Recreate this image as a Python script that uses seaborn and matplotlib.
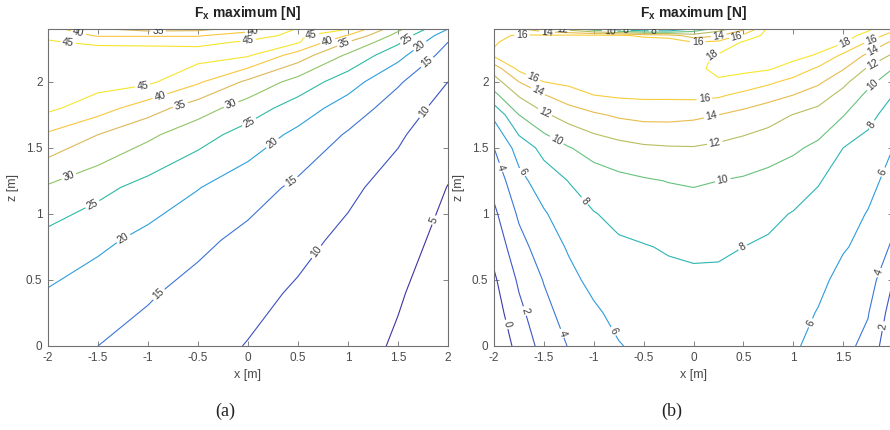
import numpy as np
import matplotlib
matplotlib.use('Agg')
import matplotlib.pyplot as plt
import seaborn as sns

# ---- panel (a): Fx maximum ----
xa = [-2, -1.5, -1, -0.5, 0, 0.5, 1, 1.5, 2]
za = [0, 0.4, 0.8, 1.2, 1.6, 1.8, 2.0, 2.2, 2.3, 2.35, 2.4]
fa = [
    [16.7, 15.0, 13.3, 11.6, 9.8, 8.1, 6.3, 4.6, 2.8],
    [19.6, 17.5, 15.5, 13.4, 11.4, 9.4, 7.4, 5.3, 3.3],
    [23.5, 21.1, 18.6, 16.1, 13.7, 11.3, 8.9, 6.4, 3.9],
    [29.4, 26.4, 23.3, 20.2, 17.1, 14.0, 11.0, 8.0, 4.9],
    [39.3, 35.0, 31.0, 27.0, 23.0, 18.8, 14.5, 10.7, 6.6],
    [46.0, 42.2, 37.2, 32.2, 27.5, 22.6, 17.6, 12.7, 8.0],
    [48.0, 47.0, 46.0, 40.7, 34.0, 28.1, 22.2, 15.6, 10.0],
    [48.0, 48.0, 47.5, 47.0, 45.5, 37.6, 29.1, 21.5, 12.8],
    [45.5, 44.0, 44.0, 44.0, 45.5, 45.5, 34.8, 25.8, 15.0],
    [44.0, 39.5, 39.5, 39.5, 43.5, 46.0, 39.7, 28.1, 17.0],
    [42.0, 35.5, 33.0, 33.5, 37.0, 45.5, 45.2, 31.2, 20.0],
]
levels_a = [5, 10, 15, 20, 25, 30, 35, 40, 45]

# ---- panel (b): one list per x column, bottom (z=0) to top (z=2.4) ----
xb = [-2, -1.75, -1.5, -1.25, -1, -0.75, -0.5, -0.25, 0,
      0.25, 0.5, 0.75, 1, 1.25, 1.5, 1.75, 2]
zb = [0, 0.25, 0.5, 0.75, 1.0, 1.25, 1.5, 1.75, 1.9, 2.0, 2.1, 2.2, 2.3, 2.35, 2.4]
fb_cols = [
    [-1.8, -1.0, -0.3, 0.65, 1.6, 2.75, 4.0, 6.4, 9.5, 11.1, 12.9, 16.3, 15.8, 15.6, 15.4],
    [0.7, 1.5, 2.3, 3.3, 4.3, 5.4, 6.8, 10.0, 12.2, 14.0, 16.5, 17.0, 16.8, 16.2, 14.5],
    [2.7, 3.4, 4.1, 5.0, 5.8, 7.0, 8.6, 11.7, 13.9, 16.0, 16.9, 17.4, 17.3, 16.3, 12.3],
    [4.1, 4.8, 5.5, 6.2, 7.1, 8.05, 9.9, 12.8, 15.2, 16.4, 17.0, 17.5, 17.5, 16.4, 11.0],
    [5.0, 5.7, 6.5, 7.2, 7.9, 9.1, 10.7, 13.7, 16.0, 16.8, 17.3, 17.6, 17.6, 16.5, 8.5],
    [5.9, 6.5, 7.1, 7.7, 8.5, 9.5, 11.3, 14.3, 16.3, 17.0, 17.4, 17.7, 17.7, 16.5, 6.5],
    [6.4, 6.9, 7.4, 7.9, 8.85, 9.8, 11.7, 14.6, 16.4, 17.0, 17.5, 17.7, 17.6, 15.5, 5.2],
    [6.7, 7.15, 7.6, 8.15, 9.1, 10.05, 11.85, 14.6, 16.4, 17.1, 17.6, 17.8, 17.5, 15.0, 5.2],
    [6.9, 7.3, 7.7, 8.3, 9.2, 10.2, 11.9, 14.4, 16.5, 17.3, 17.7, 17.5, 16.0, 13.0, 8.2],
    [6.9, 7.3, 7.7, 8.25, 9.1, 10.0, 11.6, 14.0, 16.3, 17.85, 18.3, 18.2, 16.5, 13.8, 11.0],
    [6.7, 7.1, 7.55, 8.0, 8.9, 9.8, 11.2, 13.4, 15.5, 17.3, 18.4, 18.7, 18.2, 16.5, 13.5],
    [6.5, 6.9, 7.3, 7.75, 8.4, 9.45, 10.8, 12.75, 14.75, 16.4, 18.2, 18.8, 18.9, 18.7, 18.4],
    [6.25, 6.65, 7.05, 7.5, 7.9, 9.0, 10.3, 11.95, 14.0, 15.4, 17.2, 18.6, 19.0, 19.1, 19.0],
    [5.4, 5.9, 6.45, 7.0, 7.5, 8.1, 9.6, 11.3, 12.9, 14.4, 15.7, 17.8, 18.9, 19.1, 19.2],
    [4.5, 5.0, 5.45, 6.15, 6.75, 7.4, 8.0, 10.1, 11.4, 12.5, 14.15, 15.6, 18.2, 18.7, 18.9],
    [3.5, 4.1, 5.0, 5.5, 5.9, 6.6, 7.4, 8.5, 9.6, 10.5, 11.75, 13.6, 15.8, 17.4, 18.3],
    [0.2, 1.1, 2.0, 3.7, 4.6, 5.3, 6.0, 7.25, 8.0, 9.0, 10.0, 11.7, 13.6, 15.0, 16.6],
]
levels_b = [0, 2, 4, 6, 8, 10, 12, 14, 16, 18]

# where the contour labels sit in the reference (x, z)
labels_a = [(-1.7, 2.36), (-0.9, 2.385), (0.05, 2.37), (0.0, 2.32), (-1.8, 2.28),
            (-1.05, 1.95), (-0.88, 1.89), (-0.68, 1.83), (-0.18, 1.85), (0.0, 1.71),
            (0.24, 1.54), (0.42, 1.26), (0.64, 2.32), (0.8, 2.3), (0.97, 2.28),
            (1.59, 2.32), (1.74, 2.25), (1.8, 2.14), (1.77, 1.77), (-1.8, 1.3),
            (-1.56, 1.08), (-1.25, 0.82), (-0.89, 0.39), (0.69, 0.71), (1.87, 0.95)]
labels_b = [(-1.72, 2.35), (-1.47, 2.37), (-1.32, 2.385), (-0.84, 2.39),
            (-0.68, 2.39), (-0.4, 2.39), (0.04, 2.31), (0.26, 2.33), (0.43, 2.35),
            (0.19, 2.19), (1.53, 2.28), (1.78, 2.32), (1.8, 2.24), (1.79, 2.14),
            (1.78, 1.99), (1.76, 1.69), (1.86, 1.33), (-1.61, 2.03), (-1.56, 1.93),
            (-1.49, 1.77), (-1.37, 1.56), (-1.09, 1.1), (0.11, 1.86), (0.18, 1.74),
            (0.21, 1.55), (0.29, 1.27), (0.49, 0.75), (-1.94, 1.35), (-1.71, 1.32),
            (-1.89, 0.16), (-1.71, 0.26), (-1.37, 0.08), (-0.83, 0.1), (1.19, 0.17),
            (1.88, 0.55), (1.9, 0.15)]

xticks = [-2, -1.5, -1, -0.5, 0, 0.5, 1, 1.5, 2]
xticklabels = ['-2', '-1.5', '-1', '-0.5', '0', '0.5', '1', '1.5', '2']
zticks = [0, 0.5, 1, 1.5, 2]
zticklabels = ['0', '0.5', '1', '1.5', '2']

# parula-like colour ramp
parula = ['#3e2a8f', '#3b3fb0', '#3d5ccc', '#3a80dc', '#27a7dc', '#2dbc9d',
          '#8cc466', '#d6b85a', '#f8c040', '#f6dc36', '#f7f51c']
cmap = sns.blend_palette(parula, as_cmap=True)

sns.set_theme(style='ticks')
plt.rcParams['font.family'] = ['Liberation Sans', 'DejaVu Sans']
plt.rcParams['mathtext.fontset'] = 'custom'
plt.rcParams['mathtext.bf'] = 'Liberation Sans:bold'
plt.rcParams['mathtext.rm'] = 'Liberation Sans'

grey = '#707070'
txt = '#4a4a4a'

fig = plt.figure(figsize=(8.9, 4.3), dpi=100)
ax_a = fig.add_axes([48 / 890, 84 / 430, 400 / 890, 317 / 430])
ax_b = fig.add_axes([494 / 890, 84 / 430, 399 / 890, 317 / 430])

panels = [
    (ax_a, xa, za, np.array(fa), levels_a, labels_a),
    (ax_b, xb, zb, np.array(fb_cols).T, levels_b, labels_b),
]

for ax, x, z, f, lev, lab in panels:
    X, Z = np.meshgrid(x, z)
    cs = ax.contour(X, Z, f, levels=lev, cmap=cmap,
                    vmin=f.min(), vmax=f.max(), linewidths=0.8)
    ax.set_xlim(-2, 2)
    ax.set_ylim(0, 2.4)
    ax.clabel(cs, fmt='%d', fontsize=7.5, colors='#3a3a3a', inline=True,
              inline_spacing=2, manual=lab)
    ax.set_xticks(xticks)
    ax.set_xticklabels(xticklabels)
    ax.set_yticks(zticks)
    ax.set_yticklabels(zticklabels)
    ax.tick_params(direction='in', length=3.5, width=0.6, top=True, right=True,
                   labelsize=8.5, colors=grey, labelcolor=txt, pad=4)
    for sp in ax.spines.values():
        sp.set_color(grey)
        sp.set_linewidth(0.8)
    ax.set_title(r'$\mathbf{F_x}$ maximum [N]', fontsize=10, fontweight='bold',
                 color='#222222', pad=9)
    ax.set_xlabel('x [m]', fontsize=9, color=txt, labelpad=4)
    ax.set_ylabel('z [m]', fontsize=9, color=txt, labelpad=5)

fig.text(225 / 890, 1 - 411 / 430, '(a)', ha='center', va='center',
         fontsize=13, family='Liberation Serif', color='#222222')
fig.text(672 / 890, 1 - 411 / 430, '(b)', ha='center', va='center',
         fontsize=13, family='Liberation Serif', color='#222222')

fig.savefig('out.png', dpi=100)
